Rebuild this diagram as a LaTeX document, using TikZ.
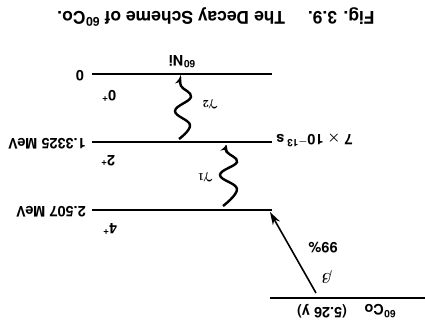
\documentclass[tikz,border=0pt]{standalone}
\usepackage{fontspec}
\setmainfont{TeX Gyre Heros}
\usetikzlibrary{arrows.meta}
\begin{document}
\begin{tikzpicture}[x=1pt,y=1pt,
  level/.style={line width=1.9pt},
  lbl/.style={font=\bfseries\boldmath\fontsize{14.5}{16}\selectfont, inner sep=0pt},
  grk/.style={font=\boldmath\fontsize{15}{17}\selectfont, inner sep=0pt},
  wave/.style={line width=2.4pt, -{Stealth[length=8pt,width=6.5pt]}},
  beta/.style={line width=1.6pt, -{Stealth[length=13pt,width=8pt]}}]
\useasboundingbox (0,0) rectangle (425,325);
\begin{scope}[rotate around={180:(212.5,162.5)}, transform shape]
  % levels
  \coordinate (g0) at (153,74);  \coordinate (g1) at (333,74);
  \coordinate (m0) at (153,142); \coordinate (m1) at (333,142);
  \coordinate (u0) at (153,210); \coordinate (u1) at (333,210);
  \coordinate (c0) at (0,298);   \coordinate (c1) at (155,298);
  \draw[level] (g0) -- (g1);
  \draw[level] (m0) -- (m1);
  \draw[level] (u0) -- (u1);
  \draw[level] (c0) -- (c1);
  % labels
  \node[lbl, anchor=west] (e0) at (341,76) {0};
  \node[lbl, anchor=west] (e1) at (339,144) {1.3325 MeV};
  \node[lbl, anchor=west] (e2) at (339,212) {2.507 MeV};
  \node[lbl, anchor=east] (tau) at (149,140) {7 $\times$ 10\textsuperscript{$-$13}\,s};
  \node[lbl] (ni) at (243,62) {\textsuperscript{60}Ni};
  \node[lbl] (s0) at (316,96) {0\textsuperscript{+}};
  \node[lbl] (s2) at (317,161) {2\textsuperscript{+}};
  \node[lbl] (s4) at (315,229) {4\textsuperscript{+}};
  \node[lbl] (co) at (45,311) {\textsuperscript{60}Co};
  \node[lbl] (hl) at (103,311) {(5.26 y)};
  \node[lbl] (pc) at (102,248) {99\%};
  \node[grk] (bt) at (98,277) {$\beta$};
  \node[grk] (g2l) at (215,104) {$\gamma_2$};
  \node[grk] (g1l) at (220,177) {$\gamma_1$};
  % gamma 2
  \coordinate (w2s) at (246,139);
  \coordinate (w2e) at (244,77);
  \draw[wave] plot[smooth, tension=0.7] coordinates {(w2s) (235,125) (250,111) (234,97) (244,86) (w2e)};
  % gamma 1
  \coordinate (w1s) at (202,206);
  \coordinate (w1e) at (198,145);
  \draw[wave] plot[smooth, tension=0.7] coordinates {(w1s) (188,189) (205,175) (188,162) (198,152) (w1e)};
  % beta
  \coordinate (bs) at (109,293);
  \coordinate (be) at (155,212);
  \draw[beta] (bs) -- (be);
  % title
  \node[font=\bfseries\fontsize{17.5}{20}\selectfont, inner sep=0pt] (title) at (209,17)
    {Fig. 3.9.\hspace{1.3em}The Decay Scheme of \textsuperscript{60}Co.};
\end{scope}
\end{tikzpicture}
\end{document}
